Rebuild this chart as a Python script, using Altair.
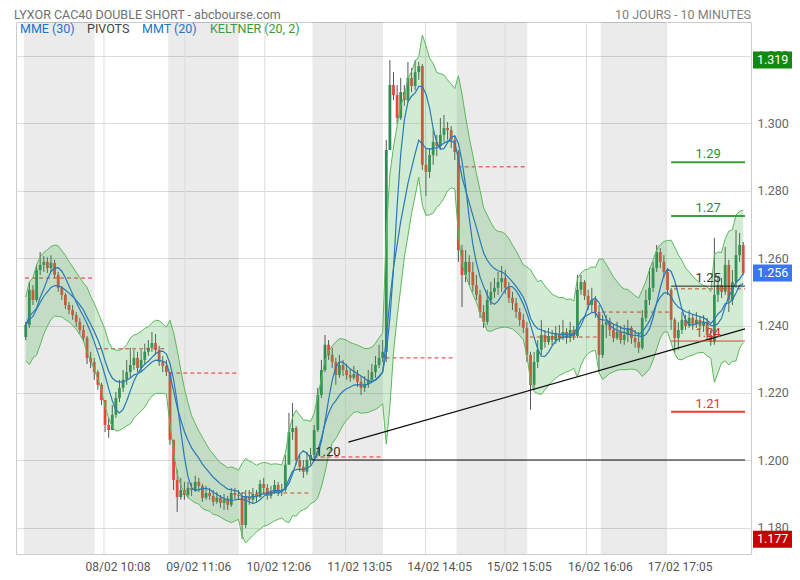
import altair as alt
import numpy as np
import pandas as pd

# ---------------- data ----------------
FIRST_OPEN = 1.2366
CANDLES_PER_DAY = 20

close = [
    1.2402, 1.2506, 1.2476, 1.2565, 1.2580, 1.2589, 1.2571, 1.2586, 1.2550, 1.2512, 1.2491, 1.2461, 1.2446, 1.2431, 1.2411, 1.2387, 1.2363, 1.2304, 1.2292, 1.2262,
    1.2224, 1.2179, 1.2105, 1.2090, 1.2135, 1.2185, 1.2215, 1.2239, 1.2262, 1.2283, 1.2304, 1.2274, 1.2298, 1.2322, 1.2334, 1.2348, 1.2328, 1.2292, 1.2280, 1.2262,
    1.2061, 1.1942, 1.1891, 1.1912, 1.1897, 1.1918, 1.1912, 1.1936, 1.1924, 1.1889, 1.1903, 1.1894, 1.1877, 1.1889, 1.1874, 1.1883, 1.1868, 1.1903, 1.1897, 1.1894,
    1.1808, 1.1891, 1.1883, 1.1900, 1.1891, 1.1930, 1.1918, 1.1894, 1.1906, 1.1927, 1.1906, 1.1912, 1.1987, 1.2084, 1.2096, 1.2001, 1.1981, 1.1966, 1.2001, 1.2016,
    1.2090, 1.2194, 1.2268, 1.2343, 1.2313, 1.2292, 1.2253, 1.2283, 1.2268, 1.2253, 1.2245, 1.2256, 1.2233, 1.2215, 1.2227, 1.2239, 1.2262, 1.2283, 1.2304, 1.2322,
    1.2921, 1.3114, 1.3084, 1.3016, 1.3093, 1.3069, 1.3135, 1.3111, 1.3152, 1.3170, 1.2877, 1.2856, 1.2906, 1.2945, 1.2933, 1.2966, 1.2986, 1.2980, 1.2951, 1.2915,
    1.2624, 1.2550, 1.2589, 1.2559, 1.2520, 1.2491, 1.2440, 1.2411, 1.2476, 1.2500, 1.2512, 1.2529, 1.2541, 1.2512, 1.2482, 1.2467, 1.2440, 1.2417, 1.2393, 1.2313,
    1.2224, 1.2292, 1.2328, 1.2372, 1.2351, 1.2369, 1.2357, 1.2375, 1.2363, 1.2381, 1.2363, 1.2387, 1.2369, 1.2506, 1.2529, 1.2488, 1.2461, 1.2476, 1.2440, 1.2313,
    1.2402, 1.2411, 1.2387, 1.2363, 1.2381, 1.2357, 1.2372, 1.2393, 1.2363, 1.2351, 1.2334, 1.2423, 1.2476, 1.2512, 1.2571, 1.2618, 1.2589, 1.2559, 1.2506, 1.2417,
    1.2363, 1.2387, 1.2417, 1.2399, 1.2423, 1.2405, 1.2417, 1.2399, 1.2411, 1.2372, 1.2351, 1.2491, 1.2520, 1.2500, 1.2580, 1.2476, 1.2529, 1.2609, 1.2639, 1.2556,
]
high = [
    1.2411, 1.2529, 1.2520, 1.2580, 1.2618, 1.2606, 1.2603, 1.2609, 1.2595, 1.2559, 1.2517, 1.2497, 1.2470, 1.2461, 1.2440, 1.2423, 1.2402, 1.2369, 1.2322, 1.2304,
    1.2268, 1.2230, 1.2173, 1.2126, 1.2164, 1.2203, 1.2239, 1.2268, 1.2298, 1.2334, 1.2328, 1.2322, 1.2328, 1.2346, 1.2357, 1.2381, 1.2375, 1.2340, 1.2310, 1.2298,
    1.2262, 1.2061, 1.1972, 1.1948, 1.1936, 1.1936, 1.1933, 1.1954, 1.1948, 1.1930, 1.1924, 1.1918, 1.1912, 1.1906, 1.1897, 1.1900, 1.1894, 1.1918, 1.1918, 1.1912,
    1.1906, 1.1912, 1.1912, 1.1918, 1.1912, 1.1942, 1.1948, 1.1930, 1.1924, 1.1942, 1.1936, 1.1930, 1.2016, 1.2141, 1.2170, 1.2102, 1.2016, 1.2001, 1.2025, 1.2037,
    1.2105, 1.2215, 1.2298, 1.2372, 1.2357, 1.2334, 1.2304, 1.2313, 1.2298, 1.2286, 1.2274, 1.2280, 1.2268, 1.2250, 1.2250, 1.2268, 1.2286, 1.2310, 1.2343, 1.2357,
    1.2951, 1.3188, 1.3152, 1.3114, 1.3135, 1.3114, 1.3182, 1.3164, 1.3188, 1.3182, 1.3176, 1.2927, 1.2927, 1.2980, 1.2966, 1.3016, 1.3025, 1.3004, 1.2992, 1.2963,
    1.2921, 1.2639, 1.2624, 1.2609, 1.2589, 1.2550, 1.2506, 1.2461, 1.2506, 1.2529, 1.2541, 1.2559, 1.2577, 1.2565, 1.2529, 1.2500, 1.2482, 1.2452, 1.2434, 1.2411,
    1.2322, 1.2322, 1.2357, 1.2417, 1.2387, 1.2393, 1.2387, 1.2399, 1.2402, 1.2417, 1.2393, 1.2411, 1.2399, 1.2550, 1.2550, 1.2535, 1.2506, 1.2512, 1.2488, 1.2461,
    1.2431, 1.2431, 1.2423, 1.2405, 1.2411, 1.2399, 1.2402, 1.2417, 1.2399, 1.2387, 1.2381, 1.2446, 1.2506, 1.2571, 1.2589, 1.2639, 1.2630, 1.2609, 1.2571, 1.2512,
    1.2423, 1.2411, 1.2440, 1.2431, 1.2446, 1.2434, 1.2440, 1.2429, 1.2431, 1.2423, 1.2387, 1.2660, 1.2547, 1.2541, 1.2633, 1.2595, 1.2565, 1.2684, 1.2675, 1.2648,
]
low = [
    1.2357, 1.2393, 1.2461, 1.2470, 1.2550, 1.2559, 1.2556, 1.2559, 1.2541, 1.2500, 1.2476, 1.2449, 1.2434, 1.2417, 1.2396, 1.2375, 1.2351, 1.2286, 1.2274, 1.2239,
    1.2209, 1.2164, 1.2084, 1.2067, 1.2096, 1.2126, 1.2173, 1.2203, 1.2224, 1.2245, 1.2268, 1.2262, 1.2262, 1.2283, 1.2310, 1.2322, 1.2313, 1.2280, 1.2262, 1.2250,
    1.2046, 1.1912, 1.1847, 1.1883, 1.1883, 1.1889, 1.1894, 1.1906, 1.1906, 1.1877, 1.1883, 1.1883, 1.1865, 1.1871, 1.1859, 1.1853, 1.1853, 1.1862, 1.1883, 1.1883,
    1.1766, 1.1799, 1.1868, 1.1874, 1.1877, 1.1889, 1.1900, 1.1883, 1.1886, 1.1900, 1.1894, 1.1894, 1.1906, 1.1987, 1.2061, 1.1987, 1.1966, 1.1948, 1.1957, 1.1987,
    1.2007, 1.2084, 1.2185, 1.2262, 1.2298, 1.2274, 1.2224, 1.2245, 1.2250, 1.2239, 1.2233, 1.2239, 1.2218, 1.2194, 1.2203, 1.2215, 1.2233, 1.2245, 1.2274, 1.2292,
    1.2292, 1.2921, 1.3069, 1.2998, 1.3010, 1.3052, 1.3063, 1.3093, 1.3099, 1.3129, 1.2862, 1.2785, 1.2838, 1.2877, 1.2903, 1.2921, 1.2945, 1.2951, 1.2927, 1.2891,
    1.2589, 1.2455, 1.2529, 1.2520, 1.2500, 1.2476, 1.2423, 1.2393, 1.2402, 1.2461, 1.2482, 1.2491, 1.2500, 1.2494, 1.2467, 1.2446, 1.2423, 1.2399, 1.2378, 1.2292,
    1.2150, 1.2209, 1.2274, 1.2313, 1.2334, 1.2343, 1.2340, 1.2346, 1.2351, 1.2357, 1.2346, 1.2351, 1.2357, 1.2363, 1.2491, 1.2476, 1.2446, 1.2440, 1.2423, 1.2262,
    1.2304, 1.2363, 1.2369, 1.2351, 1.2357, 1.2346, 1.2343, 1.2351, 1.2346, 1.2334, 1.2319, 1.2328, 1.2411, 1.2461, 1.2500, 1.2559, 1.2571, 1.2541, 1.2491, 1.2387,
    1.2319, 1.2328, 1.2375, 1.2387, 1.2393, 1.2387, 1.2393, 1.2387, 1.2381, 1.2357, 1.2340, 1.2343, 1.2470, 1.2482, 1.2491, 1.2440, 1.2461, 1.2512, 1.2589, 1.2550,
]

# daily pivot (dashed) for each session
pivot_day = [1.2541, 1.2331, 1.2259, 1.1903, 1.2010, 1.2304, 1.2871, 1.2366, 1.2440, 1.2509]
# shaded sessions (day number) and their length in candles
shade_days = [0, 2, 4, 6, 8]
shade_len = [19.6, 19.6, 19.6, 19.6, 18.3]

# pivot levels for the last session
level_values = [1.2885, 1.2725, 1.2517, 1.2354, 1.2144]
level_labels = ["1.29", "1.27", "1.25", "1.24", "1.21"]
level_colors = ["#3c9d3c", "#3c9d3c", "#222222", "#ef3b36", "#ef3b36"]
level_text_colors = ["#2e8f2e", "#2e8f2e", "#333333", "#d9362f", "#ef3030"]
level_widths = [2, 2, 1, 1, 2]
level_start = 179.5

# support line and trend line
support_value = 1.2001
support_label = "1.20"
support_start = 79.8
trend_x = [90.0, 200.0]
trend_y = [1.2054, 1.2390]

# time axis
tick_pos = [22.2, 44.6, 66.8, 89.2, 111.4, 133.5, 156.0, 178.1]
tick_labels = ["08/02 10:08", "09/02 11:06", "10/02 12:06", "11/02 13:05",
               "14/02 14:05", "15/02 15:05", "16/02 16:06", "17/02 17:05"]
y_ticks = [1.18, 1.20, 1.22, 1.24, 1.26, 1.28, 1.30, 1.32]

# ---------------- derived tables ----------------
n = len(close)
df = pd.DataFrame({"i": np.arange(n) + 0.5, "close": close, "high": high, "low": low})
df["open"] = [FIRST_OPEN] + close[:-1]
df["high"] = df[["high", "open", "close"]].max(axis=1)
df["low"] = df[["low", "open", "close"]].min(axis=1)

tp = (df["high"] + df["low"] + df["close"]) / 3
prev = df["close"].shift(1).fillna(df["open"])
tr = pd.concat([df["high"], prev], axis=1).max(axis=1) - pd.concat([df["low"], prev], axis=1).min(axis=1)
mid = tp.ewm(span=9, adjust=False).mean()
atr = tr.ewm(span=9, adjust=False).mean()
df["kup"] = mid + 1.75 * atr
df["klo"] = mid - 1.75 * atr
df["mme"] = df["close"].ewm(span=12, adjust=False).mean()
df["mmt"] = df["close"].rolling(4, min_periods=1).mean().rolling(4, min_periods=1).mean()

ndays = len(pivot_day)
piv = pd.DataFrame({
    "x0": [d * CANDLES_PER_DAY + 0.3 for d in range(ndays)],
    "x1": [d * CANDLES_PER_DAY + 19.6 if d < ndays - 1 else n for d in range(ndays)],
    "v": pivot_day,
})
shade = pd.DataFrame({
    "x0": [d * CANDLES_PER_DAY for d in shade_days],
    "x1": [d * CANDLES_PER_DAY + L for d, L in zip(shade_days, shade_len)],
})
levels = pd.DataFrame({
    "x0": level_start, "x1": float(n), "v": level_values, "label": level_labels,
    "c": level_colors, "tc": level_text_colors, "w": level_widths,
    "xm": (level_start + n) / 2,
})
support = pd.DataFrame({"x0": [support_start], "x1": [float(n)], "v": [support_value],
                        "label": [support_label], "xm": [support_start + 4.5]})
trend = pd.DataFrame({"x": trend_x, "v": trend_y})
ticks = pd.DataFrame({"x": tick_pos, "label": tick_labels})
tags = pd.DataFrame({
    "v": [df["high"].max(), df["close"].iloc[-1], df["low"].min()],
    "c": ["#128a12", "#3a76ee", "#c40000"],
})
tags["label"] = tags["v"].map(lambda v: f"{v:.3f}")

# ---------------- chart ----------------
W, H = 735, 532
FONT = "Roboto"
xscale = alt.Scale(domain=[-0.82, 200.27], nice=False, zero=False)
yscale = alt.Scale(domain=[1.1722, 1.33009], nice=False, zero=False)
yaxis = alt.Axis(orient="right", values=y_ticks, format=".3f", grid=True, gridColor="#dcdcdc",
                 ticks=False, domain=False, labelColor="#666666", labelFontSize=12.5,
                 labelFont=FONT, labelPadding=6, title=None)


def X(f):
    return alt.X(f, type="quantitative", scale=xscale, axis=None)


def Y(f):
    return alt.Y(f, type="quantitative", scale=yscale, axis=yaxis)


shade_l = alt.Chart(shade).mark_rect(color="#000000", opacity=0.078).encode(
    x=X("x0"), x2="x1", y=alt.value(0), y2=alt.value(H))

vgrid = alt.Chart(ticks).mark_rule(color="#dcdcdc", strokeWidth=1).encode(
    x=X("x"), y=alt.value(0), y2=alt.value(H))

wicks = alt.Chart(df).mark_rule(color="#555555", strokeWidth=1).encode(
    x=X("i"), y=Y("low"), y2="high")

bodies = alt.Chart(df).mark_bar(size=2.8).encode(
    x=X("i"), y=Y("open"), y2="close",
    color=alt.condition("datum.close >= datum.open", alt.value("#2e8b57"), alt.value("#e8453c")))

piv_l = alt.Chart(piv).mark_rule(color="#e0302b", strokeWidth=1, strokeDash=[4, 3]).encode(
    x=X("x0"), x2="x1", y=Y("v"))

band = alt.Chart(df).mark_area(color="#4caf50", opacity=0.25).encode(
    x=X("i"), y=Y("klo"), y2="kup")
band_up = alt.Chart(df).mark_line(color="#5cb85c", strokeWidth=1).encode(x=X("i"), y=Y("kup"))
band_lo = alt.Chart(df).mark_line(color="#5cb85c", strokeWidth=1).encode(x=X("i"), y=Y("klo"))
mme_l = alt.Chart(df).mark_line(color="#2a78b8", strokeWidth=1.2).encode(x=X("i"), y=Y("mme"))
mmt_l = alt.Chart(df).mark_line(color="#2a78b8", strokeWidth=1.2).encode(x=X("i"), y=Y("mmt"))

trend_l = alt.Chart(trend).mark_line(color="#111111", strokeWidth=1.2).encode(x=X("x"), y=Y("v"))
support_l = alt.Chart(support).mark_rule(color="#111111", strokeWidth=1.2).encode(
    x=X("x0"), x2="x1", y=Y("v"))
support_t = alt.Chart(support).mark_text(font=FONT, fontSize=13, color="#333333", dy=-8).encode(
    x=X("xm"), y=Y("v"), text="label")

level_l = alt.Chart(levels).mark_rule().encode(
    x=X("x0"), x2="x1", y=Y("v"),
    color=alt.Color("c:N", scale=None), strokeWidth=alt.StrokeWidth("w:Q", scale=None))
level_t = alt.Chart(levels).mark_text(font=FONT, fontSize=13, dy=-8).encode(
    x=X("xm"), y=Y("v"), text="label", color=alt.Color("tc:N", scale=None))

xlab = alt.Chart(ticks).mark_text(font=FONT, fontSize=12, color="#555555", dx=14,
                                  baseline="alphabetic").encode(
    x=X("x"), y=alt.value(H + 17), text="label")

tag_shape = "M-1,-0.362H1V0.362H-1Z"
tag_box = alt.Chart(tags).mark_point(shape=tag_shape, size=2209, filled=True, opacity=1, strokeWidth=0).encode(
    x=alt.value(W + 25.5), y=Y("v"), color=alt.Color("c:N", scale=None))
tag_txt = alt.Chart(tags).mark_text(font=FONT, fontSize=12.5, color="white", align="left",
                                    baseline="middle").encode(
    x=alt.value(W + 6), y=Y("v"), text="label")

one = pd.DataFrame({"k": [0]})


def txt(s, x, y, color, align="left", size=12.5):
    return alt.Chart(one).mark_text(text=s, font=FONT, fontSize=size, color=color, align=align,
                                    baseline="middle").encode(x=alt.value(x), y=alt.value(y))


title_l = txt("LYXOR CAC40 DOUBLE SHORT - abcbourse.com", -2, -7, "#707070", size=12.5)
title_r = txt("10 JOURS - 10 MINUTES", W, -7, "#808080", align="right", size=12.5)
leg1 = txt("MME (30)", 4, 7, "#2574c4")
leg2 = txt("PIVOTS", 71, 7, "#444444")
leg3 = txt("MMT (20)", 126, 7, "#2574c4")
leg4 = txt("KELTNER (20, 2)", 194, 7, "#3a9b3a")

chart = alt.layer(
    shade_l, vgrid, wicks, bodies, piv_l, band, band_up, band_lo, mme_l, mmt_l,
    trend_l, support_l, support_t, level_l, level_t, xlab, tag_box, tag_txt,
    title_l, title_r, leg1, leg2, leg3, leg4,
).properties(
    width=W, height=H,
    autosize=alt.AutoSizeParams(type="none"),
    padding={"left": 8, "top": 14, "right": 41, "bottom": 22},
).configure_view(stroke="#cccccc", strokeWidth=1)

chart.save("out.html", embed_options={"renderer": "svg", "actions": False})
